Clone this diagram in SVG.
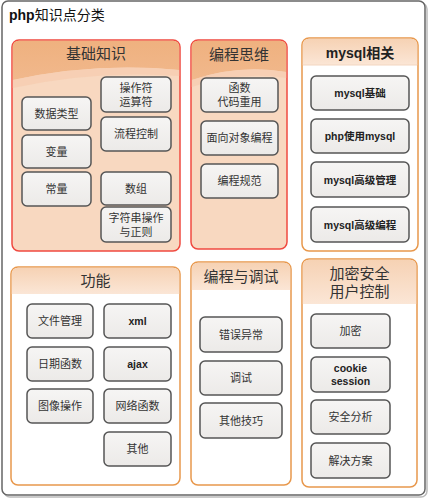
<svg xmlns="http://www.w3.org/2000/svg" width="430" height="499" viewBox="0 0 430 499">
<defs>
<linearGradient id="hdrO" x1="0" y1="0" x2="0" y2="1">
<stop offset="0" stop-color="#f6d2b4"/>
<stop offset="1" stop-color="#fbe6d6"/>
</linearGradient>
<linearGradient id="hdrR" x1="0" y1="0" x2="0" y2="1">
<stop offset="0" stop-color="#efb17f"/>
<stop offset="1" stop-color="#f1b88c"/>
</linearGradient>
<linearGradient id="nodeG" x1="0" y1="0" x2="0" y2="1">
<stop offset="0" stop-color="#f6f5f4"/>
<stop offset="1" stop-color="#eceae8"/>
</linearGradient>
</defs>
<style>
.frame{fill:#fff;stroke:#666;stroke-width:1.5}
.shadow{fill:none;stroke:#bbb;stroke-width:1.5}
.red{fill:#f8d8c0;stroke:#f04a40;stroke-width:1.5}
.org{fill:#fff;stroke:#e8984c;stroke-width:1.5}
.node{fill:url(#nodeG);stroke:#555;stroke-width:1.5}
text{font-family:"Liberation Sans","Noto Sans CJK SC",sans-serif;fill:#333;text-anchor:middle;dominant-baseline:central}
.t{font-size:11px}
.b{font-size:10.5px;font-weight:bold;fill:#222}
.h{font-size:15px;fill:#333}
.hb{font-size:14px;font-weight:bold;fill:#222}
.title{font-size:14px;text-anchor:start;fill:#111}
</style>
<rect class="shadow" x="4" y="3" width="423" height="494" rx="6"/>
<rect class="frame" x="2" y="1" width="423" height="494" rx="6"/>
<text class="title" x="9" y="15"><tspan font-weight="bold">php</tspan>知识点分类</text>

<g id="g-jichu">
<rect class="red" x="12" y="40" width="168" height="211" rx="7"/>
<path d="M12.8,47 Q12.8,40.8 19,40.8 L173,40.8 Q179.2,40.8 179.2,47 L179.2,70 Q96,62 12.8,80 Z" fill="url(#hdrR)"/>
<path d="M12.8,80 Q96,62 179.2,70 L179.2,76 Q96,70 12.8,88 Z" fill="#f6cdb0" opacity="0.8"/>
<text class="h" x="96" y="53">基础知识</text>
</g>
<g id="n-shujuleixing"><rect class="node" x="22" y="97" width="69" height="33" rx="5"/><text class="t" x="56.5" y="113.5">数据类型</text></g>
<g id="n-caozuofu"><rect class="node" x="101" y="77" width="70" height="35" rx="5"/><text class="t" x="136" y="87.5">操作符<tspan x="136" dy="14">运算符</tspan></text></g>
<g id="n-liucheng"><rect class="node" x="101" y="117" width="70" height="34" rx="5"/><text class="t" x="136" y="134">流程控制</text></g>
<g id="n-bianliang"><rect class="node" x="22" y="135" width="69" height="33" rx="5"/><text class="t" x="56.5" y="151.5">变量</text></g>
<g id="n-changliang"><rect class="node" x="22" y="172" width="69" height="34" rx="5"/><text class="t" x="56.5" y="189">常量</text></g>
<g id="n-shuzu"><rect class="node" x="101" y="172" width="70" height="33" rx="5"/><text class="t" x="136" y="188.5">数组</text></g>
<g id="n-zifuchuan"><rect class="node" x="101" y="207" width="70" height="35" rx="5"/><text class="t" x="136" y="217.5">字符串操作<tspan x="136" dy="14">与正则</tspan></text></g>

<g id="g-siwei">
<rect class="red" x="191" y="40" width="96" height="209" rx="7"/>
<path d="M191.8,47 Q191.8,40.8 198,40.8 L280,40.8 Q286.2,40.8 286.2,47 L286.2,72 Q239,64 191.8,80 Z" fill="url(#hdrR)"/>
<path d="M191.8,80 Q239,64 286.2,72 L286.2,78 Q239,71 191.8,87 Z" fill="#f6cdb0" opacity="0.8"/>
<text class="h" x="239" y="54">编程思维</text>
</g>
<g id="n-hanshu"><rect class="node" x="201" y="78" width="77" height="34" rx="5"/><text class="t" x="239.5" y="88">函数<tspan x="239.5" dy="14">代码重用</tspan></text></g>
<g id="n-mianxiang"><rect class="node" x="201" y="121" width="77" height="34" rx="5"/><text class="t" x="239.5" y="138">面向对象编程</text></g>
<g id="n-guifan"><rect class="node" x="201" y="164" width="77" height="34" rx="5"/><text class="t" x="239.5" y="181">编程规范</text></g>

<g id="g-mysql">
<rect class="org" x="302" y="38" width="116" height="213" rx="7"/>
<path d="M302.8,45 Q302.8,38.8 309,38.8 L411,38.8 Q417.2,38.8 417.2,45 L417.2,65 L302.8,65 Z" fill="url(#hdrO)"/>
<line x1="302.8" y1="65" x2="417.2" y2="65" stroke="#f3d6c0" stroke-width="1"/>
<text class="hb" x="360" y="52.5">mysql相关</text>
</g>
<g id="n-mysqljichu"><rect class="node" x="311" y="76" width="98" height="34" rx="5"/><text class="b" x="360" y="93">mysql基础</text></g>
<g id="n-phpmysql"><rect class="node" x="311" y="119" width="98" height="34" rx="5"/><text class="b" x="360" y="136">php使用mysql</text></g>
<g id="n-mysqlguanli"><rect class="node" x="311" y="162" width="98" height="35" rx="5"/><text class="b" x="360" y="179.5">mysql高级管理</text></g>
<g id="n-mysqlbiancheng"><rect class="node" x="311" y="207" width="98" height="35" rx="5"/><text class="b" x="360" y="224.5">mysql高级编程</text></g>

<g id="g-gongneng">
<rect class="org" x="11" y="267" width="169" height="218" rx="7"/>
<path d="M11.8,274 Q11.8,267.8 18,267.8 L173,267.8 Q179.2,267.8 179.2,274 L179.2,294 L11.8,294 Z" fill="url(#hdrO)"/>
<text class="h" x="95.5" y="280">功能</text>
</g>
<g id="n-wenjian"><rect class="node" x="27" y="304" width="66" height="34" rx="5"/><text class="t" x="60" y="321">文件管理</text></g>
<g id="n-xml"><rect class="node" x="104" y="304" width="67" height="34" rx="5"/><text class="b" x="137.5" y="321">xml</text></g>
<g id="n-riqi"><rect class="node" x="27" y="347" width="66" height="34" rx="5"/><text class="t" x="60" y="364">日期函数</text></g>
<g id="n-ajax"><rect class="node" x="104" y="347" width="67" height="34" rx="5"/><text class="b" x="137.5" y="364">ajax</text></g>
<g id="n-tuxiang"><rect class="node" x="27" y="389" width="66" height="34" rx="5"/><text class="t" x="60" y="406">图像操作</text></g>
<g id="n-wangluo"><rect class="node" x="104" y="389" width="67" height="34" rx="5"/><text class="t" x="137.5" y="406">网络函数</text></g>
<g id="n-qita"><rect class="node" x="104" y="432" width="67" height="34" rx="5"/><text class="t" x="137.5" y="449">其他</text></g>

<g id="g-tiaoshi">
<rect class="org" x="191" y="262" width="100" height="223" rx="7"/>
<path d="M191.8,269 Q191.8,262.8 198,262.8 L284,262.8 Q290.2,262.8 290.2,269 L290.2,290 L191.8,290 Z" fill="url(#hdrO)"/>
<text class="h" x="241" y="276.5">编程与调试</text>
</g>
<g id="n-cuowu"><rect class="node" x="200" y="317" width="82" height="35" rx="5"/><text class="t" x="241" y="334.5">错误异常</text></g>
<g id="n-tiaoshi"><rect class="node" x="200" y="361" width="82" height="34" rx="5"/><text class="t" x="241" y="378">调试</text></g>
<g id="n-jiqiao"><rect class="node" x="200" y="403" width="82" height="35" rx="5"/><text class="t" x="241" y="420.5">其他技巧</text></g>

<g id="g-anquan">
<rect class="org" x="302" y="259" width="115" height="228" rx="7"/>
<path d="M302.8,266 Q302.8,259.8 309,259.8 L410,259.8 Q416.2,259.8 416.2,266 L416.2,304 L302.8,304 Z" fill="url(#hdrO)"/>
<text class="h" x="359.5" y="273">加密安全<tspan x="359.5" dy="18">用户控制</tspan></text>
</g>
<g id="n-jiami"><rect class="node" x="311" y="314" width="79" height="34" rx="5"/><text class="t" x="350.5" y="331">加密</text></g>
<g id="n-cookie"><rect class="node" x="311" y="357" width="79" height="35" rx="5"/><text class="b" x="350.5" y="368">cookie<tspan x="350.5" dy="13">session</tspan></text></g>
<g id="n-fenxi"><rect class="node" x="311" y="400" width="79" height="34" rx="5"/><text class="t" x="350.5" y="417">安全分析</text></g>
<g id="n-fangan"><rect class="node" x="311" y="443" width="79" height="35" rx="5"/><text class="t" x="350.5" y="460.5">解决方案</text></g>
</svg>
